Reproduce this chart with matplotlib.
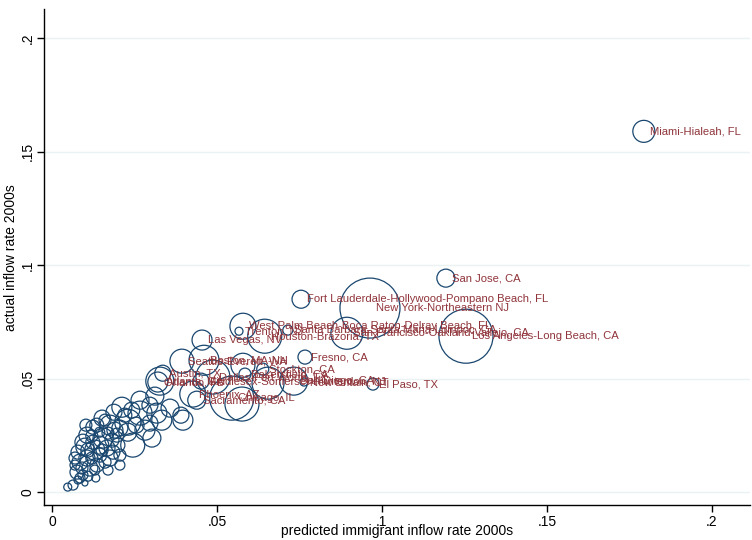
import matplotlib
matplotlib.use("Agg")
import matplotlib.pyplot as plt

plt.rcParams["font.family"] = ["Liberation Sans", "DejaVu Sans"]

# labelled metro areas: predicted inflow, actual inflow, population (thousands)
labels = [
    "Miami-Hialeah, FL", "San Jose, CA",
    "Fort Lauderdale-Hollywood-Pompano Beach, FL", "New York-Northeastern NJ",
    "Los Angeles-Long Beach, CA", "San Francisco-Oakland-Vallejo, CA",
    "Houston-Brazoria, TX", "West Palm Beach-Boca Raton-Delray Beach, FL",
    "Trenton, NJ", "Santa Barbara-Santa Maria-Lompoc, CA", "Las Vegas, NV",
    "Fresno, CA", "El Paso, TX", "Seattle-Everett, WA", "Boston, MA-NH",
    "Austin, TX", "Dallas-Fort Worth, TX", "Bakersfield, CA", "Stockton, CA",
    "Atlanta, GA", "Orlando, FL", "Middlesex-Somerset-Hunterdon, NJ",
    "San Diego, CA", "New Britain, CT", "Phoenix, AZ", "Sacramento, CA",
    "Chicago, IL",
]
lab_x = [0.1794, 0.1194, 0.0755, 0.0964, 0.1255, 0.0894, 0.0645, 0.0579,
         0.0567, 0.0715, 0.0455, 0.0767, 0.0973, 0.0394, 0.0461, 0.0336,
         0.0488, 0.0585, 0.0639, 0.0327, 0.0321, 0.0452, 0.0733, 0.0764,
         0.0427, 0.0439, 0.0545]
lab_y = [0.1590, 0.0943, 0.0850, 0.0811, 0.0687, 0.0700, 0.0687, 0.0731,
         0.0709, 0.0714, 0.0670, 0.0595, 0.0476, 0.0577, 0.0581, 0.0524,
         0.0507, 0.0520, 0.0542, 0.0489, 0.0485, 0.0489, 0.0489, 0.0485,
         0.0432, 0.0405, 0.0414]
lab_pop = [1210, 810, 810, 9000, 7290, 2560, 2890, 1690, 160, 250, 1000,
           490, 360, 1440, 2250, 640, 2890, 360, 360, 1960, 1000, 640, 1960,
           160, 1690, 810, 4840]

# unlabelled metro areas
oth_x = [0.0579, 0.0655, 0.0576,
         0.0212, 0.0242, 0.0267, 0.0318, 0.0333, 0.0297, 0.0245, 0.0152,
         0.0176, 0.0206, 0.0197, 0.0106, 0.0094, 0.0124, 0.0155, 0.0167,
         0.0176, 0.0079, 0.0085, 0.0106, 0.0115, 0.0076, 0.0094, 0.0136,
         0.0070, 0.0100, 0.0048, 0.0064, 0.0145, 0.0185, 0.0200, 0.0170,
         0.0124, 0.0145, 0.0391, 0.0397, 0.0358, 0.0230, 0.0130, 0.0100,
         0.0145, 0.0206, 0.0133, 0.0121, 0.0161, 0.0085, 0.0267, 0.0297,
         0.0312, 0.0188,
         0.0070, 0.0091, 0.0109, 0.0121, 0.0136, 0.0161, 0.0182, 0.0191,
         0.0221, 0.0230, 0.0255, 0.0282, 0.0303, 0.0109, 0.0079, 0.0130,
         0.0152, 0.0170, 0.0206, 0.0103]
oth_y = [0.0559, 0.0480, 0.0388,
         0.0374, 0.0361, 0.0348, 0.0348, 0.0317, 0.0304, 0.0207, 0.0326,
         0.0295, 0.0282, 0.0251, 0.0251, 0.0220, 0.0220, 0.0238, 0.0194,
         0.0150, 0.0176, 0.0132, 0.0150, 0.0106, 0.0088, 0.0075, 0.0119,
         0.0119, 0.0040, 0.0022, 0.0031, 0.0163, 0.0176, 0.0207, 0.0260,
         0.0286, 0.0264, 0.0339, 0.0317, 0.0370, 0.0308, 0.0185, 0.0198,
         0.0207, 0.0163, 0.0062, 0.0150, 0.0132, 0.0062, 0.0405, 0.0383,
         0.0423, 0.0352,
         0.0150, 0.0106, 0.0185, 0.0247, 0.0295, 0.0317, 0.0229, 0.0273,
         0.0339, 0.0264, 0.0295, 0.0273, 0.0238, 0.0070, 0.0053, 0.0097,
         0.0185, 0.0097, 0.0119, 0.0295]
oth_pop = [1440, 2560, 2890,
           1000, 640, 1440, 1000, 1000, 640, 1440, 640, 1000, 640, 490, 640,
           640, 490, 1000, 640, 640, 490, 640, 640, 640, 490, 250, 490, 250,
           90, 160, 250, 490, 490, 490, 360, 490, 250, 640, 1000, 810, 1690,
           1000, 810, 810, 360, 160, 360, 360, 250, 810, 640, 810, 640,
           360, 360, 490, 360, 490, 360, 490, 640, 490, 810, 640, 1000, 810,
           250, 160, 250, 360, 250, 250, 360]

navy = "#1a476f"
maroon = "#90353b"

fig = plt.figure(figsize=(7.52, 5.40), dpi=100)
ax = fig.add_axes([0.0585, 0.0648, 0.9385, 0.918])

all_x = oth_x + lab_x
all_y = oth_y + lab_y
all_s = [p * 0.2073 for p in oth_pop + lab_pop]
ax.scatter(all_x, all_y, s=all_s, facecolors="none", edgecolors=navy,
           linewidths=0.9, zorder=3)

for name, x, y in zip(labels, lab_x, lab_y):
    ax.annotate(name, (x, y), xytext=(4.3, 0), textcoords="offset points",
                va="center", ha="left", fontsize=8.1, color=maroon, zorder=4)

ax.set_xlim(-0.0024, 0.2115)
ax.set_ylim(-0.0057, 0.2128)
ticks = [0, 0.05, 0.1, 0.15, 0.2]
tick_labels = ["0", ".05", ".1", ".15", ".2"]
ax.set_xticks(ticks)
ax.set_xticklabels(tick_labels)
ax.set_yticks(ticks)
ax.set_yticklabels(tick_labels, rotation=90, va="center")
ax.tick_params(direction="out", length=5, width=1, labelsize=10, pad=2)
ax.grid(axis="y", color="#eaf2f3", linewidth=1)
ax.set_axisbelow(True)
for side in ["top", "right"]:
    ax.spines[side].set_visible(False)
for side in ["left", "bottom"]:
    ax.spines[side].set_linewidth(1)

ax.set_xlabel("predicted immigrant inflow rate 2000s", fontsize=10,
              va="center")
ax.xaxis.set_label_coords(0.5, -0.053)
ax.set_ylabel("actual inflow rate 2000s", fontsize=10, va="center")
ax.yaxis.set_label_coords(-0.047, 0.5)

fig.savefig("out.png", dpi=100)
